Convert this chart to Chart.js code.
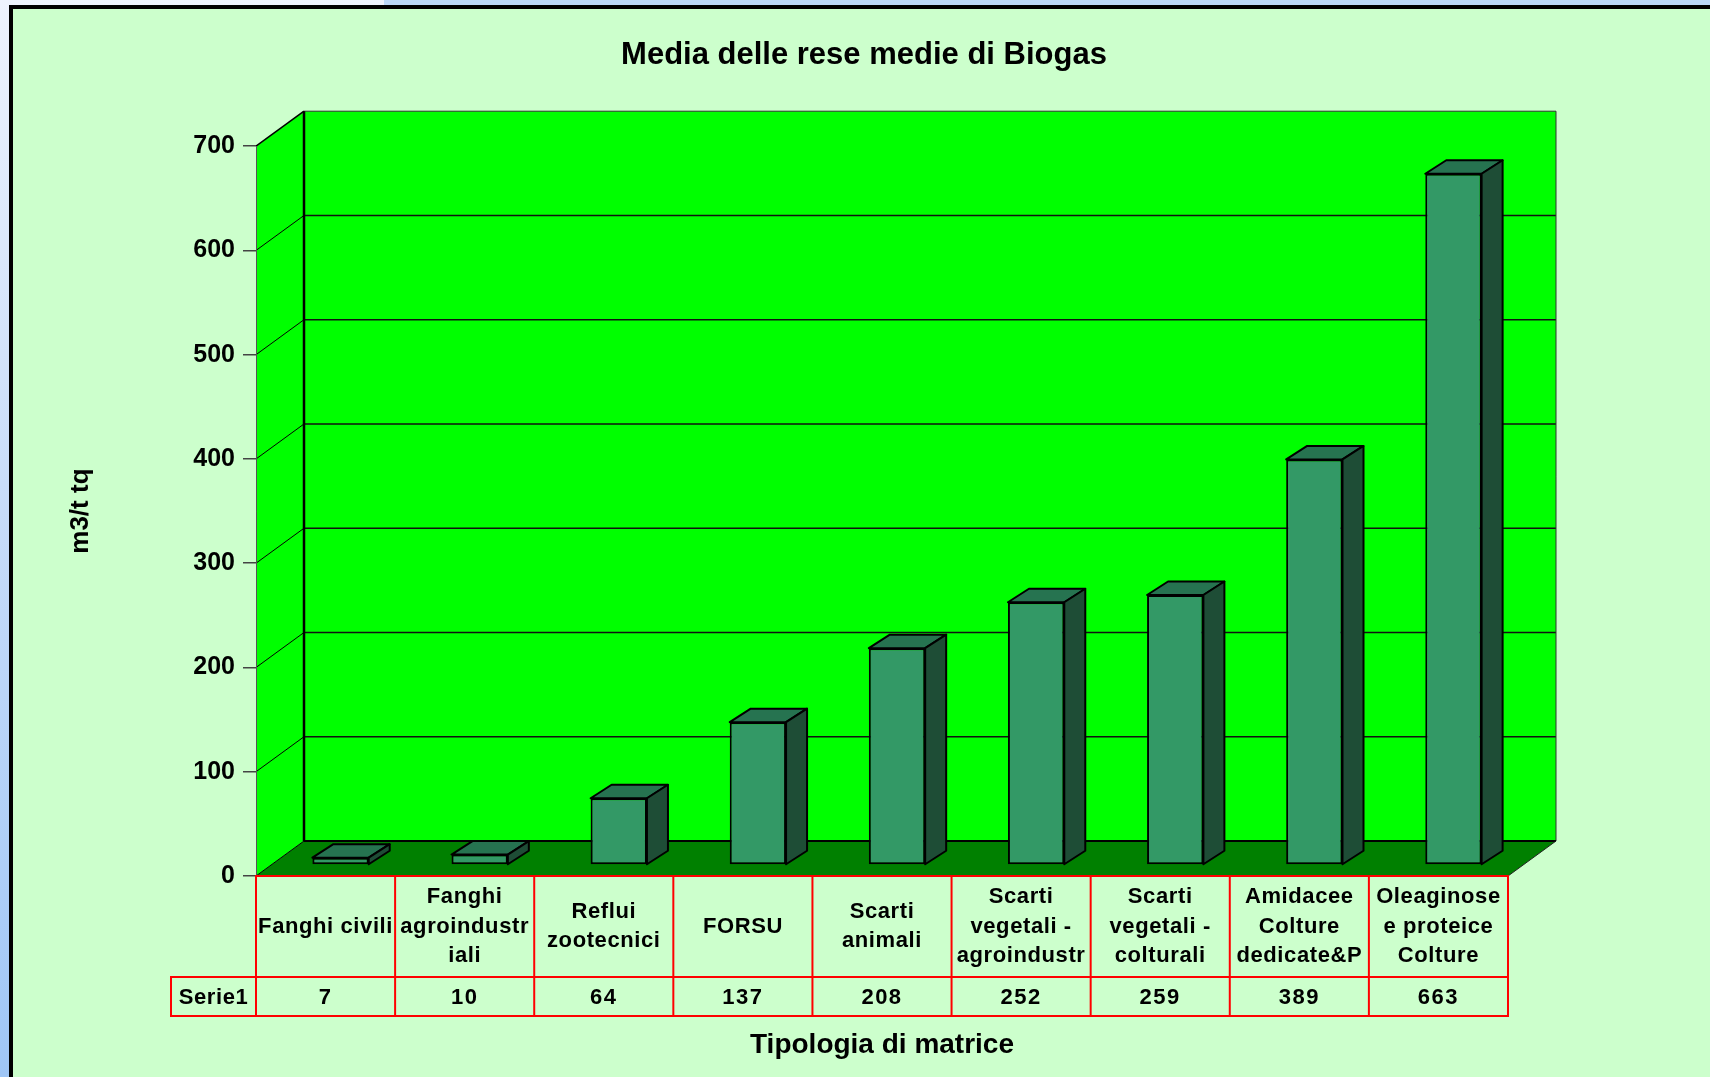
<!DOCTYPE html>
<html>
<head>
<meta charset="utf-8">
<title>Media delle rese medie di Biogas</title>
<script src="https://cdn.jsdelivr.net/npm/chart.js@4.4.1/dist/chart.umd.min.js"></script>
<style>
  html, body { margin: 0; padding: 0; width: 1710px; height: 1077px; overflow: hidden; }
  body { position: relative; background: linear-gradient(to bottom, #eef3fd 0%, #c9ddf9 45%, #9fc6f6 100%); }
  #strip { position: absolute; left: 384px; top: 0; width: 1326px; height: 6px; background: #bcd8f8; }
  #frame { position: absolute; left: 9px; top: 5px; right: -20px; bottom: -20px; border: 4px solid #000; background: #ccffcc; }
  #chart { position: absolute; left: 0; top: 0; }
</style>
</head>
<body>
<div id="strip"></div>
<div id="frame"></div>
<canvas id="chart" width="1710" height="1077"></canvas>
<script>
// labels as they show up (wrapped + clipped) in the data table
const categories = [
  ['Fanghi civili'],
  ['Fanghi', 'agroindustr', 'iali'],
  ['Reflui', 'zootecnici'],
  ['FORSU'],
  ['Scarti', 'animali'],
  ['Scarti', 'vegetali -', 'agroindustr'],
  ['Scarti', 'vegetali -', 'colturali'],
  ['Amidacee', 'Colture', 'dedicate&P'],
  ['Oleaginose', 'e proteice', 'Colture'],
];
const seriesName = 'Serie1';
const yields = [7, 10, 64, 137, 208, 252, 259, 389, 663];
const yMax = 700;
const yStep = 100;

const FONT = "'Liberation Sans', Arial, sans-serif";

// fake 3d: depth of floor/walls and where the bars sit inside it
const WALL_DX = 48, WALL_DY = -35;
const BAR_DX = 15, BAR_DY = -11;
const BAR_DEPTH_X = 21, BAR_DEPTH_Y = -13.5;

function poly(ctx, pts, fill, stroke, lw) {
  ctx.beginPath();
  ctx.moveTo(pts[0][0], pts[0][1]);
  pts.slice(1).forEach((p) => ctx.lineTo(p[0], p[1]));
  ctx.closePath();
  if (fill) { ctx.fillStyle = fill; ctx.fill(); }
  if (stroke) { ctx.strokeStyle = stroke; ctx.lineWidth = lw || 1; ctx.stroke(); }
}

function line(ctx, x1, y1, x2, y2, color, lw) {
  ctx.beginPath();
  ctx.moveTo(x1, y1);
  ctx.lineTo(x2, y2);
  ctx.strokeStyle = color;
  ctx.lineWidth = lw;
  ctx.stroke();
}

const box3d = {
  id: 'box3d',
  beforeDraw(chart) {
    const { ctx, chartArea: a, scales: { y } } = chart;
    const L = a.left, R = a.right, T = a.top, B = a.bottom;
    ctx.save();
    // side wall, back wall, floor
    poly(ctx, [[L, B], [L, T], [L + WALL_DX, T + WALL_DY], [L + WALL_DX, B + WALL_DY]], '#00ff00');
    ctx.fillStyle = '#00ff00';
    ctx.fillRect(L + WALL_DX, T + WALL_DY, R - L, B - T);
    poly(ctx, [[L, B], [R, B], [R + WALL_DX, B + WALL_DY], [L + WALL_DX, B + WALL_DY]], '#008000');

    // gridlines on both walls
    y.ticks.forEach((t) => {
      if (t.value === 0) return;
      const py = y.getPixelForValue(t.value);
      const top = t.value === yMax;
      line(ctx, L + WALL_DX, py + WALL_DY, R + WALL_DX, py + WALL_DY, top ? '#333' : '#111', top ? 1 : 1.6);
      line(ctx, L, py, L + WALL_DX, py + WALL_DY, '#000', top ? 1.5 : 1);
    });
    line(ctx, R + WALL_DX, T + WALL_DY, R + WALL_DX, B + WALL_DY, '#333', 1);
    line(ctx, L + WALL_DX, T + WALL_DY, L + WALL_DX, B + WALL_DY, '#000', 2.5);
    line(ctx, L + WALL_DX, B + WALL_DY, R + WALL_DX, B + WALL_DY, '#000', 2);
    line(ctx, L, B, L + WALL_DX, B + WALL_DY, '#000', 1);
    line(ctx, R, B, R + WALL_DX, B + WALL_DY, '#222', 1);
    ctx.restore();
  },
  beforeDatasetDraw(chart) {
    chart.ctx.save();
    chart.ctx.translate(BAR_DX, BAR_DY);
  },
  afterDatasetDraw(chart) {
    chart.ctx.restore();
  },
  afterDatasetsDraw(chart) {
    const ctx = chart.ctx;
    ctx.save();
    ctx.translate(BAR_DX, BAR_DY);
    ctx.lineJoin = 'round';
    chart.getDatasetMeta(0).data.forEach((bar) => {
      const { x, y, base, width } = bar.getProps(['x', 'y', 'base', 'width'], true);
      const xl = x - width / 2, xr = x + width / 2;
      poly(ctx, [[xl, y], [xr, y], [xr + BAR_DEPTH_X, y + BAR_DEPTH_Y], [xl + BAR_DEPTH_X, y + BAR_DEPTH_Y]], '#267350', '#000', 2);
      poly(ctx, [[xr, y], [xr + BAR_DEPTH_X, y + BAR_DEPTH_Y], [xr + BAR_DEPTH_X, base + BAR_DEPTH_Y], [xr, base]], '#1e4d36', '#000', 2);
    });
    ctx.restore();
  },
  afterDraw(chart) {
    // data table under the floor
    const { ctx, chartArea: a, scales: { x } } = chart;
    const colW = (a.right - a.left) / categories.length;
    const top = a.bottom, mid = top + 101, bot = mid + 39;
    const labelLeft = a.left - 85;
    ctx.save();
    ctx.strokeStyle = '#ff0000';
    ctx.lineWidth = 2;
    ctx.strokeRect(a.left, top, a.right - a.left, bot - top);
    ctx.strokeRect(labelLeft, mid, a.left - labelLeft, bot - mid);
    line(ctx, labelLeft, mid, a.right, mid, '#ff0000', 2);
    for (let i = 1; i < categories.length; i++) {
      const cx = a.left + i * colW;
      line(ctx, cx, top, cx, bot, '#ff0000', 2);
    }
    ctx.fillStyle = '#000';
    ctx.textAlign = 'center';
    ctx.textBaseline = 'middle';
    ctx.font = 'bold 22px ' + FONT;
    ctx.letterSpacing = '0.6px';
    categories.forEach((lines, i) => {
      const cx = x.getPixelForValue(i);
      const lh = 29.5;
      const y0 = (top + mid) / 2 - (lines.length - 1) * lh / 2;
      lines.forEach((txt, j) => ctx.fillText(txt, cx, y0 + j * lh));
    });
    ctx.letterSpacing = '1.5px';
    yields.forEach((v, i) => ctx.fillText(String(v), x.getPixelForValue(i), (mid + bot) / 2 + 1));
    ctx.letterSpacing = '0.6px';
    ctx.fillText(seriesName, (labelLeft + a.left) / 2, (mid + bot) / 2 + 1);
    ctx.restore();
  },
};

new Chart(document.getElementById('chart'), {
  type: 'bar',
  data: {
    labels: categories,
    datasets: [{
      label: seriesName,
      data: yields,
      backgroundColor: '#339966',
      borderColor: '#000',
      borderWidth: 2,
      borderSkipped: false,
      barPercentage: 0.405,
      categoryPercentage: 1,
    }],
  },
  options: {
    responsive: false,
    devicePixelRatio: 1,
    animation: false,
    layout: { padding: { left: 18, right: 0, top: 0, bottom: 0 } },
    plugins: {
      legend: { display: false },
      tooltip: { enabled: false },
      title: {
        display: true,
        text: 'Media delle rese medie di Biogas',
        color: '#000',
        font: { family: FONT, size: 31, weight: 'bold' },
        padding: { top: 37, bottom: 72 },
      },
    },
    scales: {
      x: {
        type: 'category',
        offset: true,
        ticks: { display: false },
        grid: { display: false },
        border: { display: false },
        title: {
          display: true,
          text: 'Tipologia di matrice',
          color: '#000',
          font: { family: FONT, size: 28, weight: 'bold' },
          padding: { top: 0, bottom: 15 },
        },
        afterFit: (s) => { s.height = 201; },
      },
      y: {
        min: 0,
        max: yMax,
        ticks: { stepSize: yStep, color: '#000', padding: 8, font: { family: FONT, size: 25, weight: 'bold' } },
        grid: { drawOnChartArea: false, drawTicks: true, tickLength: 13, color: '#444', lineWidth: 1.5 },
        border: { display: true, color: '#555', width: 1 },
        title: {
          display: true,
          text: 'm3/t tq',
          color: '#000',
          font: { family: FONT, size: 26, weight: 'bold' },
          padding: { top: 47, bottom: 0 },
        },
        afterFit: (s) => { s.width = 238; },
      },
      yRight: {
        position: 'right',
        display: true,
        ticks: { display: false },
        grid: { display: false },
        border: { display: false },
        afterFit: (s) => { s.width = 202; },
      },
    },
  },
  plugins: [box3d],
});
</script>
</body>
</html>
